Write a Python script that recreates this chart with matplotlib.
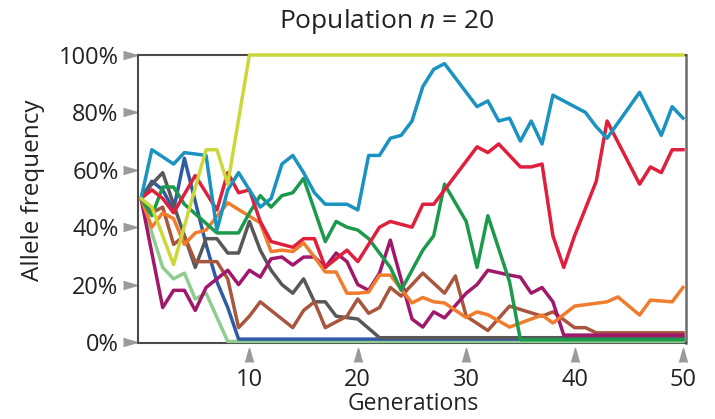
import matplotlib
matplotlib.use("Agg")
import matplotlib.pyplot as plt

plt.rcParams['font.family'] = ['Open Sans', 'DejaVu Sans']
plt.rcParams['mathtext.fontset'] = 'custom'
plt.rcParams['mathtext.rm'] = 'Open Sans'
plt.rcParams['mathtext.it'] = 'Open Sans:italic'

# allele frequency (%) of each simulated population, read at its turning points
lime_gen = [0, 1, 3, 6, 7, 8, 10, 50]
lime_val = [50, 47, 27, 67, 67, 55, 100, 100]

teal_gen = [0, 1, 3, 4, 6, 7, 8, 9, 10, 11, 12, 13, 14, 15, 16, 17, 19, 20, 21, 22,
            23, 24, 25, 26, 27, 28, 31, 32, 33, 34, 35, 36, 37, 38, 41, 42, 43, 46, 48, 49, 50]
teal_val = [50, 67, 62, 66, 65, 39, 53, 59, 53, 47, 50, 62, 65, 59, 52, 48, 48, 46, 65, 65,
            71, 72, 77, 89, 95, 97, 82, 84, 77, 78, 70, 77, 69, 86, 80, 75, 71, 87, 72, 82, 78]

red_gen = [0, 1, 2, 3, 5, 7, 8, 9, 10, 11, 12, 14, 15, 16, 17, 19, 20, 22, 23, 25,
           26, 27, 31, 32, 33, 35, 36, 37, 38, 39, 40, 42, 43, 46, 47, 48, 49, 50]
red_val = [50, 53, 50, 45, 58, 46, 59, 52, 53, 42, 35, 33, 36, 36, 26, 32, 28, 40, 42, 40,
           48, 48, 68, 66, 69, 61, 61, 62, 37, 26, 37, 56, 77, 55, 61, 59, 67, 67]

green_gen = [0, 1, 2, 3, 4, 7, 9, 10, 11, 12, 13, 14, 15, 17, 18, 19, 20, 21, 23, 24,
             26, 27, 28, 30, 31, 32, 34, 35, 50]
green_val = [50, 44, 54, 54, 48, 38, 38, 45, 51, 47, 51, 52, 57, 35, 42, 40, 39, 36, 26, 18,
             32, 37, 55, 42, 26, 44, 21, 0.8, 0.8]

orange_gen = [0, 1, 2, 3, 4, 5, 6, 8, 11, 12, 13, 14, 15, 16, 17, 18, 19, 20, 21, 22,
              23, 24, 25, 26, 27, 28, 30, 31, 32, 34, 37, 38, 40, 43, 44, 46, 47, 49, 50]
orange_val = [50, 40, 45, 43, 34, 38, 39, 48.5, 41.5, 31.5, 32, 31.5, 34.5, 29.6, 24.4, 24.4, 17, 17, 17.4, 23.3,
              23.3, 18.5, 13.6, 15.5, 14, 13.6, 8.5, 10.5, 9.5, 5.2, 9.4, 6.6, 12.5, 14, 15.7, 9.4, 14.6, 14, 19]

purple_gen = [0, 2, 3, 4, 5, 6, 7, 8, 9, 10, 11, 12, 13, 14, 15, 16, 17, 18, 19, 20,
              21, 22, 23, 25, 26, 27, 28, 30, 31, 32, 34, 35, 36, 37, 38, 39, 50]
purple_val = [50, 12, 18, 18, 11, 19, 22, 25, 20, 25, 22.6, 29, 29.6, 26.8, 29.6, 29.6, 26, 31, 28, 20,
              18, 24, 35.5, 8, 5.2, 10.5, 8.4, 17, 20, 25, 23.3, 22.6, 17, 19, 14, 2.4, 2.4]

brown_gen = [0, 1, 2, 3, 4, 5, 7, 8, 9, 10, 11, 14, 15, 16, 17, 19, 20, 21, 22, 23,
             24, 26, 28, 29, 30, 32, 34, 37, 38, 40, 41, 42, 50]
brown_val = [50, 45, 47, 34, 37, 28, 28, 22, 5, 9, 14, 5, 11, 14, 5, 9, 15, 10, 12, 19,
             16, 24, 17, 23, 9, 4, 12.5, 9, 10.5, 5, 5, 3.2, 3.2]

gray_gen = [0, 1, 2, 5, 6, 7, 8, 9, 10, 11, 12, 13, 14, 15, 16, 17, 18, 19, 20, 22, 50]
gray_val = [50, 55, 59, 26, 36, 36, 31, 31, 42, 32, 25, 20, 17, 22, 14, 14, 9, 8.5, 8, 1.5, 1.5]

blue_gen = [0, 1, 2, 3, 4, 6, 7, 8, 9, 50]
blue_val = [50, 56, 53, 46, 64, 34, 21, 12, 1, 1]

lightgreen_gen = [0, 1, 2, 3, 4, 5, 6, 8, 50]
lightgreen_val = [50, 38, 26, 22, 24, 15, 17, 0.2, 0.2]

x_ticks = [10, 20, 30, 40, 50]
y_ticks = [0, 20, 40, 60, 80, 100]
y_labels = ['0%', '20%', '40%', '60%', '80%', '100%']

series = [
    (lightgreen_gen, lightgreen_val, '#8fcd8f'),
    (blue_gen, blue_val, '#2f5ba5'),
    (gray_gen, gray_val, '#585858'),
    (brown_gen, brown_val, '#a8563e'),
    (purple_gen, purple_val, '#a0186b'),
    (orange_gen, orange_val, '#ef7d2d'),
    (green_gen, green_val, '#1c9a4b'),
    (red_gen, red_val, '#e01f3d'),
    (teal_gen, teal_val, '#1a93c0'),
    (lime_gen, lime_val, '#cbd83a'),
]

W, H = 715, 419
fig = plt.figure(figsize=(W / 100, H / 100), dpi=100)
ax = fig.add_axes([138 / W, 1 - 343 / H, 548 / W, 288 / H])

for i, (g, v, c) in enumerate(series):
    ax.plot(g, v, color=c, lw=2.5, zorder=3 + i, clip_on=False)

ax.set_xlim(-0.28, 50.28)
ax.set_ylim(-0.35, 100)

for side in ['left', 'top', 'bottom']:
    ax.spines[side].set_color('#4a4a4a')
    ax.spines[side].set_linewidth(1.5)
ax.spines['right'].set_color('#6a6a6a')
ax.spines['right'].set_linewidth(1.8)

ax.set_xticks(x_ticks)
ax.set_xticklabels([str(t) for t in x_ticks])
ax.set_yticks(y_ticks)
ax.set_yticklabels(y_labels)
ax.tick_params(axis='x', length=0, pad=18, labelsize=17, colors='#222222')
ax.tick_params(axis='y', length=0, pad=14, labelsize=17, colors='#222222')

# gray triangle tick marks outside the frame
ytri = [(-7, -4), (7, 0), (-7, 4)]
xtri = [(-4, -7), (0, 7), (4, -7)]
ax.plot([-0.0146] * len(y_ticks), y_ticks, ls='none', marker=ytri, markersize=10,
        color='#9a9a9a', transform=ax.get_yaxis_transform(), clip_on=False)
ax.plot(x_ticks, [-0.042] * len(x_ticks), ls='none', marker=xtri, markersize=10,
        color='#9a9a9a', transform=ax.get_xaxis_transform(), clip_on=False)

fig.text(387 / W, 1 - 22 / H, 'Population $n$ = 20', ha='center', va='center',
         fontsize=19, color='#222222')
fig.text(33 / W, 1 - 190 / H, 'Allele frequency', rotation=90, ha='center', va='center',
         fontsize=17.5, color='#222222')
fig.text(413 / W, 1 - 404 / H, 'Generations', ha='center', va='center',
         fontsize=16.5, color='#222222')

fig.savefig('out.png', dpi=100)
